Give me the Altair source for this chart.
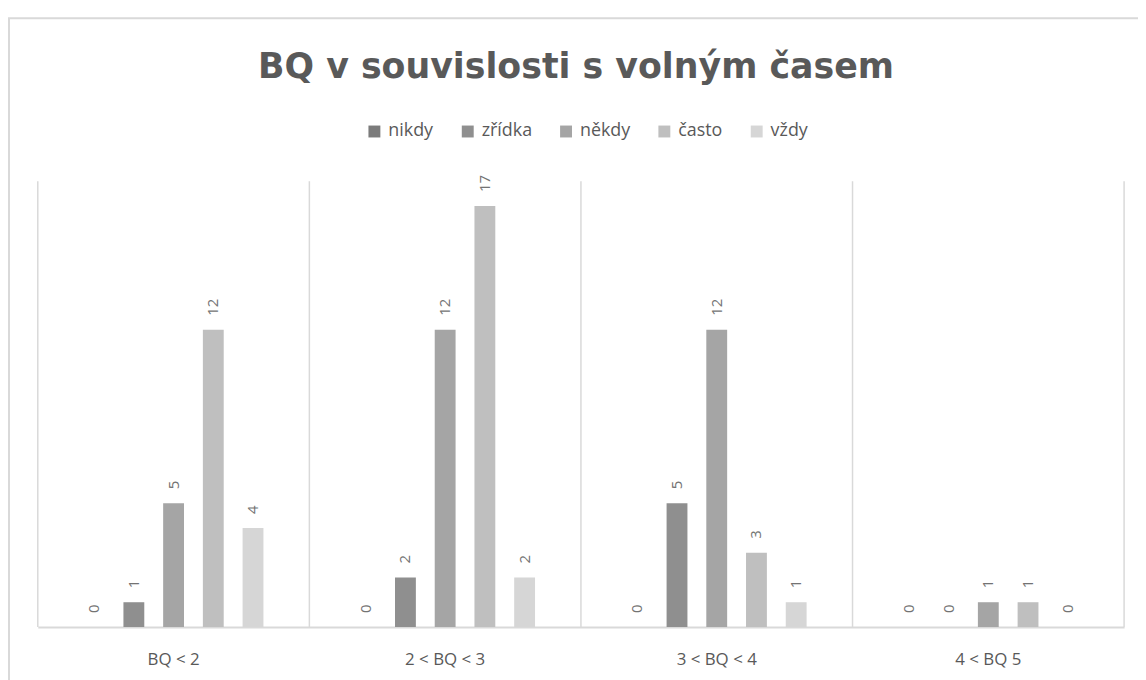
import altair as alt
import pandas as pd

groups = ["BQ < 2", "2 < BQ < 3", "3 < BQ < 4", "4 < BQ 5"]
series = ["nikdy", "zřídka", "někdy", "často", "vždy"]
nikdy = [0, 0, 0, 0]
zridka = [1, 2, 5, 0]
nekdy = [5, 12, 12, 1]
casto = [12, 17, 3, 1]
vzdy = [4, 2, 1, 0]
colors = ["#7b7b7b", "#8f8f8f", "#a5a5a5", "#bfbfbf", "#d6d6d6"]
title_text = ["BQ v souvislosti s volným časem"]

rows = []
for s, vals in zip(series, [nikdy, zridka, nekdy, casto, vzdy]):
    for g, v in zip(groups, vals):
        rows.append({"group": g, "series": s, "value": v})
df = pd.DataFrame(rows)

W, H = 1094, 449
FONT = "Open Sans"

xaxis = alt.Axis(labelAngle=0, ticks=False, grid=False, domainColor="#d9d9d9",
                 domainWidth=2, labelColor="#595959", labelFontSize=17,
                 labelFont=FONT, labelPadding=25)
xscale = alt.Scale(domain=groups, paddingInner=0, paddingOuter=0)
offset_domain = ["_pad_l"] + series + ["_pad_r"]
xoff = alt.XOffset("series:N",
                   scale=alt.Scale(domain=offset_domain, paddingInner=0.475, paddingOuter=0.156))
yscale = alt.Scale(domain=[0, 18], nice=False)

base = alt.Chart(df)

bars = base.mark_bar().encode(
    x=alt.X("group:N", sort=groups, scale=xscale, title=None, axis=xaxis),
    xOffset=xoff,
    y=alt.Y("value:Q", scale=yscale, axis=None),
    color=alt.Color("series:N", sort=series,
                    scale=alt.Scale(domain=series, range=colors),
                    legend=alt.Legend(title=None, orient="none", direction="horizontal",
                                      columns=5, legendX=330, legendY=-59,
                                      symbolType="square", symbolSize=144,
                                      symbolStrokeWidth=0, labelFontSize=18,
                                      labelFont=FONT, labelColor="#595959",
                                      labelOffset=5, columnPadding=25)),
)

labels = base.mark_text(angle=270, align="left", baseline="middle", dx=14,
                        fontSize=15, font=FONT, color="#737373").encode(
    x=alt.X("group:N", sort=groups, scale=xscale, title=None, axis=xaxis),
    xOffset=xoff,
    y=alt.Y("value:Q", scale=yscale, axis=None),
    text=alt.Text("value:Q"),
)

grid_df = pd.DataFrame({"group": groups})
grid = alt.Chart(grid_df).mark_rule(color="#d9d9d9", strokeWidth=1.5).encode(
    x=alt.X("group:N", sort=groups, scale=xscale, bandPosition=0, title=None, axis=xaxis),
    y=alt.value(0),
    y2=alt.value(H),
)
grid_end = alt.Chart(grid_df.head(1)).mark_rule(color="#d9d9d9", strokeWidth=1.5).encode(
    x=alt.value(W), y=alt.value(0), y2=alt.value(H)
)

frame = alt.Chart(grid_df.head(1)).mark_rect(fillOpacity=0, stroke="#d9d9d9",
                                             strokeWidth=2).encode(
    x=alt.value(-29), x2=alt.value(1300), y=alt.value(-164), y2=alt.value(800)
)

title = alt.Chart(pd.DataFrame({"t": title_text})).mark_text(
    fontSize=35, font="DejaVu Sans", fontWeight="bold", color="#595959",
    align="center", baseline="middle"
).encode(x=alt.value(542), y=alt.value(-115), text="t:N")

chart = alt.layer(frame, grid, grid_end, bars, labels, title).properties(
    width=W, height=H,
    background="white",
    autosize=alt.AutoSizeParams(type="none"),
    padding={"left": 30, "top": 172, "right": 14, "bottom": 51},
).configure_view(stroke="transparent", strokeWidth=0)

chart.save("out.html", embed_options={"renderer": "svg", "actions": False})
